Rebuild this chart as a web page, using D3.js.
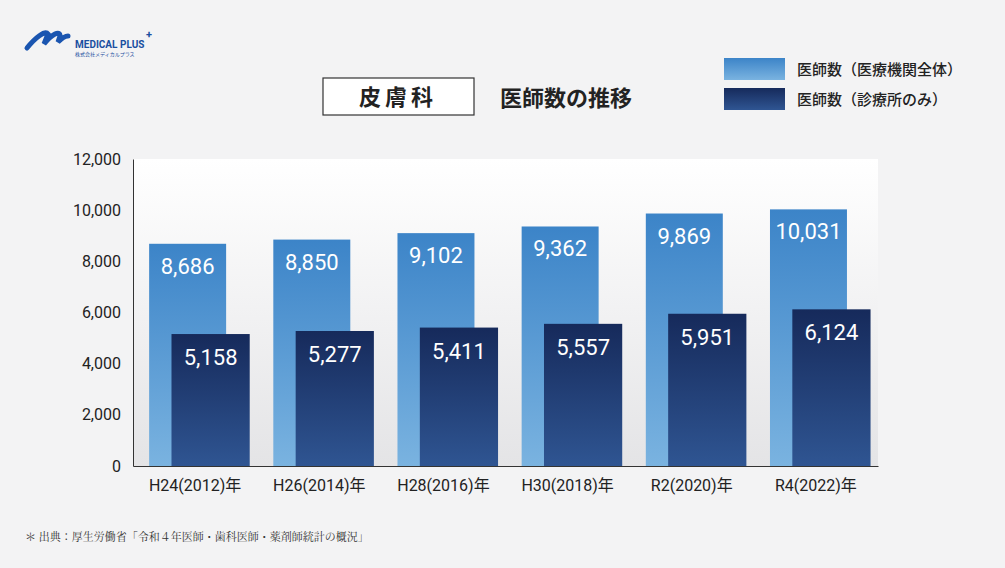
<!DOCTYPE html><html><head><meta charset="utf-8"><script src="https://cdn.jsdelivr.net/npm/d3@7"></script>
<style>body{margin:0;background:#f4f4f5}</style></head><body><svg id="c" width="1005" height="568"></svg><script>
const categories=["H24(2012)年","H26(2014)年","H28(2016)年","H30(2018)年","R2(2020)年","R4(2022)年"];
const allDoctors=[8686,8850,9102,9362,9869,10031];
const clinicDoctors=[5158,5277,5411,5557,5951,6124];
const yTicks=[0,2000,4000,6000,8000,10000,12000];
const svg=d3.select("#c");
const defs=svg.append("defs");
function grad(id,c1,c2){const g=defs.append("linearGradient").attr("id",id).attr("x1",0).attr("x2",0).attr("y1",0).attr("y2",1);g.append("stop").attr("offset",0).attr("stop-color",c1);g.append("stop").attr("offset",1).attr("stop-color",c2);}
grad("gl","#3c84c8","#7ab3e0");grad("gd","#162a5b","#2f5592");grad("gb","#ffffff","#e4e4e6");
svg.append("rect").attr("width",1005).attr("height",568).attr("fill","#f3f3f4");
const x=d3.scaleBand().domain(categories).range([133,878]);
const y=d3.scaleLinear().domain([0,12000]).range([466,159]);
svg.append("rect").attr("x",133).attr("y",159).attr("width",745).attr("height",307).attr("fill","url(#gb)");
const bw=x.bandwidth();
const F="Roboto, 'Noto Sans CJK JP', sans-serif";
svg.selectAll(".l").data(allDoctors).join("rect").attr("x",(d,i)=>x(categories[i])+bw*0.13).attr("width",bw*0.62).attr("y",d=>y(d)).attr("height",d=>466-y(d)).attr("fill","url(#gl)");
svg.selectAll(".lt").data(allDoctors).join("text").attr("x",(d,i)=>x(categories[i])+bw*0.44).attr("y",d=>y(d)+30).attr("text-anchor","middle").attr("fill","#fff").attr("font-family",F).attr("font-size",22).text(d3.format(","));
svg.selectAll(".d").data(clinicDoctors).join("rect").attr("x",(d,i)=>x(categories[i])+bw*0.31).attr("width",bw*0.63).attr("y",d=>y(d)).attr("height",d=>466-y(d)).attr("fill","url(#gd)");
svg.selectAll(".dt").data(clinicDoctors).join("text").attr("x",(d,i)=>x(categories[i])+bw*0.625).attr("y",d=>y(d)+31).attr("text-anchor","middle").attr("fill","#fff").attr("font-family",F).attr("font-size",22).text(d3.format(","));
const ya=svg.append("g").attr("transform","translate(133,0)").call(d3.axisLeft(y).tickValues(yTicks).tickSize(0).tickPadding(12).tickFormat(d3.format(",")));
ya.select(".domain").attr("stroke","#333");
ya.selectAll("text").attr("font-family",F).attr("font-size",16).attr("fill","#222");
const xa=svg.append("g").attr("transform","translate(0,466)").call(d3.axisBottom(x).tickSize(0).tickPadding(14));
xa.select(".domain").attr("stroke","#333");
xa.selectAll("text").attr("font-family",F).attr("font-size",16).attr("fill","#222");
svg.append("rect").attr("x",323).attr("y",78).attr("width",151).attr("height",37).attr("fill","#fff").attr("stroke","#333").attr("stroke-width",1.2);
svg.append("text").attr("x",398).attr("y",105).attr("text-anchor","middle").attr("font-family","'Noto Sans CJK JP'").attr("font-weight",700).attr("font-size",22).attr("letter-spacing",4).attr("fill","#222").text("皮膚科");
svg.append("text").attr("x",500).attr("y",106).attr("font-family","'Noto Sans CJK JP'").attr("font-weight",700).attr("font-size",22).attr("fill","#222").text("医師数の推移");
[["gl","医師数（医療機関全体）",58],["gd","医師数（診療所のみ）",88]].forEach(([g,t,yy])=>{
svg.append("rect").attr("x",724).attr("y",yy).attr("width",61).attr("height",22).attr("fill",`url(#${g})`);
svg.append("text").attr("x",797).attr("y",yy+17).attr("font-family","'Noto Sans CJK JP'").attr("font-weight",500).attr("font-size",15).attr("fill","#222").text(t);});
svg.append("path").attr("d","M27 48 C35 38 45 30 48 34 L44 44 C52 34 60 30 60 36 L58 42 C62 38 66 36 68 36").attr("fill","none").attr("stroke","#1a55b0").attr("stroke-width",5).attr("stroke-linecap","round");
svg.append("text").attr("x",75).attr("y",48).attr("font-family",F).attr("font-weight",700).attr("font-size",10).attr("fill","#1a4fa0").text("MEDICAL PLUS");
svg.append("text").attr("x",146).attr("y",38).attr("font-family",F).attr("font-weight",700).attr("font-size",11).attr("fill","#1a4fa0").text("+");
svg.append("text").attr("x",75).attr("y",56).attr("font-family","'Noto Sans CJK JP'").attr("font-size",5).attr("fill","#1a4fa0").text("株式会社メディカルプラス");
svg.append("text").attr("x",25).attr("y",541).attr("font-family","'Noto Serif CJK JP','Noto Sans CJK JP'").attr("font-size",11).attr("fill","#333").text("＊ 出典：厚生労働省「令和４年医師・歯科医師・薬剤師統計の概況」");
</script></body></html>
